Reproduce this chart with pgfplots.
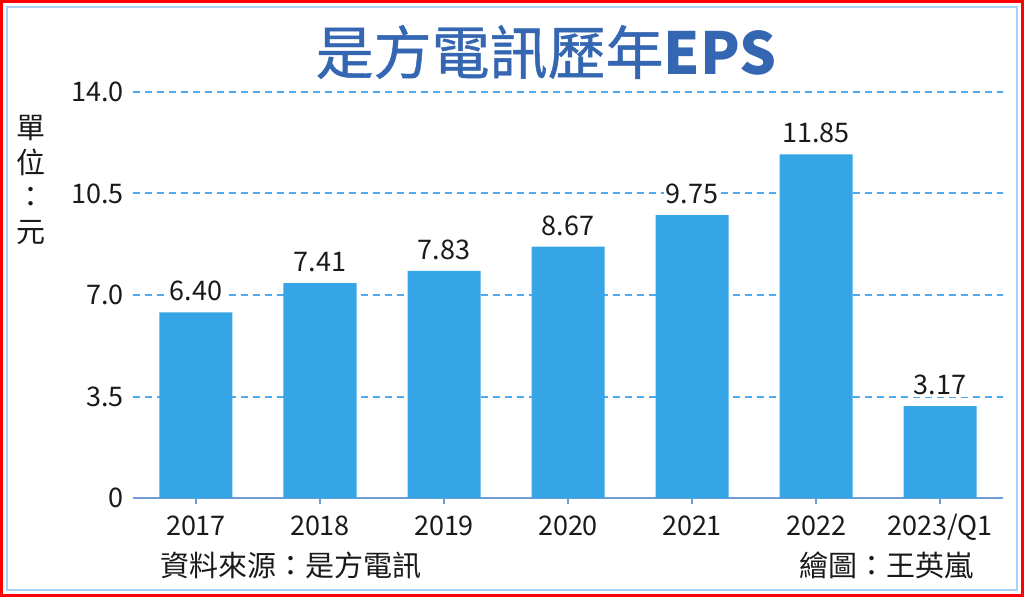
\documentclass[border=0pt]{standalone}
\usepackage{pgfplots}
\pgfplotsset{compat=1.18}
\usepackage{pgfplotstable}
\usepackage{fontspec}
\setmainfont{Noto Sans CJK TC}
\newfontfamily\titlefont{Noto Sans CJK TC}[FakeBold=0.8]
\definecolor{barblue}{HTML}{36A5E6}
\definecolor{gridblue}{HTML}{4DAAEE}
\definecolor{axisblue}{HTML}{6E9DD6}
\definecolor{titleblue}{HTML}{3566B2}
\definecolor{innerblue}{HTML}{A9D1F3}
\definecolor{txt}{HTML}{1A1A1A}
\pgfplotstableread{
x y label
0 6.40 6.40
1 7.41 7.41
2 7.83 7.83
3 8.67 8.67
4 9.75 9.75
5 11.85 11.85
6 3.17 3.17
}\epsdata
\begin{document}
\begin{tikzpicture}
\path[use as bounding box] (0pt,0pt) rectangle (1024pt,597pt);
\fill[white] (0pt,0pt) rectangle (1024pt,597pt);
\draw[red, line width=3pt] (1.5pt,1.5pt) rectangle (1022.5pt,595.5pt);
\draw[innerblue, line width=2pt] (7pt,7pt) rectangle (1017pt,590pt);
\node[font=\fontsize{58}{58}\selectfont, text=titleblue, inner sep=0pt] at (546pt,545pt) {{\titlefont 是方電訊歷年}{\bfseries EPS}};
\node[align=center, inner sep=0pt, text=txt, font=\fontsize{29}{34.5}\selectfont] at (31pt,417pt) {單\\位\\：\\元};
\node[anchor=west, inner sep=0pt, text=txt, font=\fontsize{29}{29}\selectfont] at (160pt,32pt) {資料來源：是方電訊};
\node[anchor=east, inner sep=0pt, text=txt, font=\fontsize{29}{29}\selectfont] at (974pt,32pt) {繪圖：王英嵐};
\begin{axis}[
  at={(133pt,99pt)}, anchor=south west, scale only axis,
  width=870pt, height=406pt,
  xmin=-0.508, xmax=6.508, ymin=0, ymax=14,
  ybar, bar width=73pt,
  axis lines*=left,
  x axis line style={axisblue, line width=2.5pt, -},
  y axis line style={draw=none},
  xtick={0,1,2,3,4,5,6},
  xticklabels={2017,2018,2019,2020,2021,2022,2023/Q1},
  ytick={0,3.5,7,10.5,14},
  yticklabels={0,3.5,7.0,10.5,14.0},
  tick align=outside,
  major tick length=6pt,
  xtick style={axisblue, line width=2pt},
  ytick style={draw=none},
  ymajorgrids,
  major grid style={gridblue, line width=2pt, dash pattern=on 7pt off 5pt},
  xticklabel style={font=\fontsize{27}{27}\selectfont, text=txt, anchor=base, inner sep=0pt, yshift=-31pt},
  yticklabel style={font=\fontsize{27}{27}\selectfont, text=txt, anchor=east, inner sep=0pt, xshift=-3pt},
  clip=false,
]
\addplot[fill=barblue, draw=none, point meta=explicit symbolic,
  nodes near coords,
  nodes near coords style={font=\fontsize{27}{27}\selectfont, text=txt, fill=white, inner sep=2pt, anchor=south, yshift=9pt}]
  table[x=x, y=y, meta=label] {\epsdata};
\end{axis}
\end{tikzpicture}
\end{document}
